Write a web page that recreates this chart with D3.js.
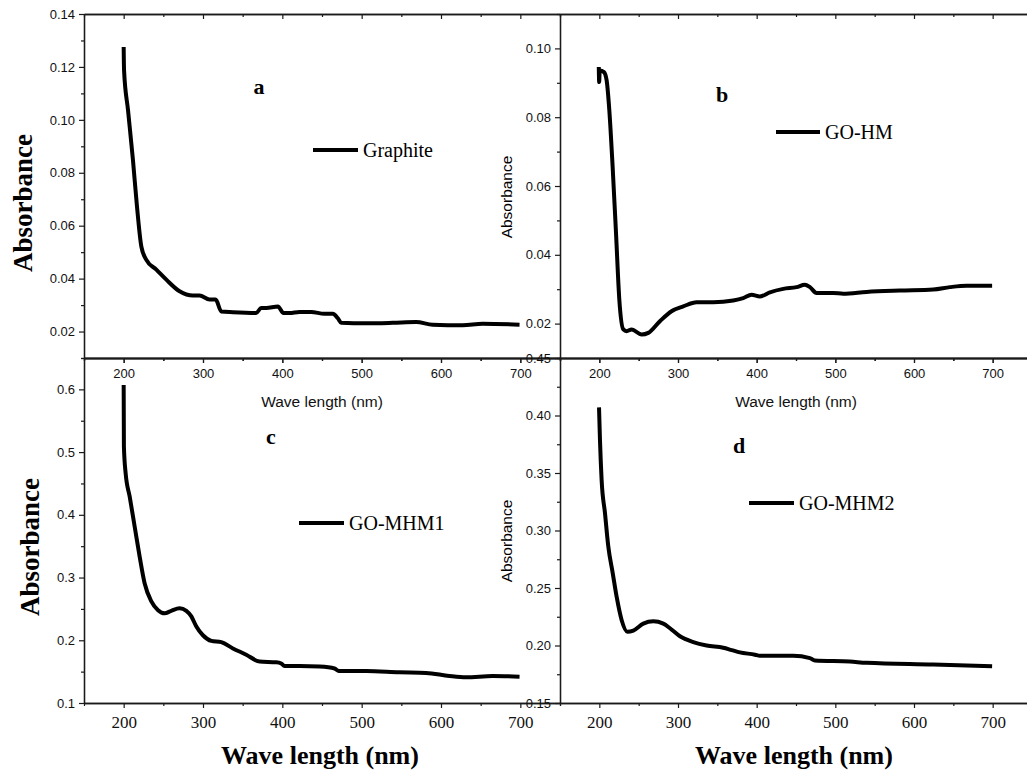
<!DOCTYPE html>
<html>
<head>
<meta charset="utf-8">
<script src="https://cdn.jsdelivr.net/npm/d3@7"></script>
<style>
  html, body { margin: 0; padding: 0; background: #fff; }
  svg { display: block; }
</style>
</head>
<body>
<svg id="chart" width="1027" height="773"></svg>
<script>
// ---------------- DATA ----------------
const seriesNames = ["Graphite", "GO-HM", "GO-MHM1", "GO-MHM2"];
const panelLetters = ["a", "b", "c", "d"];

const xTickValues = [200, 300, 400, 500, 600, 700];
const xMinorValues = [150, 250, 350, 450, 550, 650, 750];
const xDomain = [150, 750];

// Panel a: Graphite
const wlA  = [200, 200.5, 205.5, 211.7, 216.8, 222.3, 228.6, 241.2, 253.8, 270.5, 287.3, 295.7, 308.3, 316, 323, 337.7, 367, 373.4, 379.7, 394.4, 401.5, 409, 421.7, 436.4, 453, 463.6, 470, 474.2, 505.7, 539, 568.6, 589.6, 627.3, 652.5, 699];
const absA = [0.1275, 0.1187, 0.1036, 0.0848, 0.0672, 0.0521, 0.0471, 0.0434, 0.0396, 0.0352, 0.0336, 0.0336, 0.0321, 0.0321, 0.0276, 0.0273, 0.0270, 0.0289, 0.0289, 0.0295, 0.0270, 0.0270, 0.0274, 0.0274, 0.0267, 0.0267, 0.0250, 0.0233, 0.0231, 0.0233, 0.0236, 0.0226, 0.0224, 0.0229, 0.0226];

// Panel b: GO-HM
const wlB  = [199.3, 199.8, 200.5, 205.9, 209.3, 212.7, 216.9, 221.2, 225.4, 230.5, 234.7, 241, 253.8, 262.2, 277, 291.8, 306.7, 323.7, 344.8, 370.2, 382.9, 393.6, 404.1, 416.8, 433.8, 450.7, 461.3, 467.7, 476.2, 497.3, 510, 539.7, 582, 624.4, 645.6, 666.8, 699.3];
const absB = [0.0946, 0.0902, 0.0936, 0.0931, 0.0907, 0.0820, 0.0656, 0.0463, 0.0270, 0.0183, 0.0178, 0.0183, 0.0168, 0.0173, 0.0207, 0.0236, 0.0250, 0.0262, 0.0262, 0.0267, 0.0274, 0.0284, 0.0279, 0.0291, 0.0301, 0.0306, 0.0313, 0.0306, 0.0289, 0.0289, 0.0287, 0.0292, 0.0296, 0.0299, 0.0306, 0.0310, 0.0310];

// Panel c: GO-MHM1
const wlC  = [200, 200.3, 202.5, 207.6, 213.9, 220.2, 226.4, 234.9, 243.3, 251.6, 260, 270.5, 279, 285.3, 291.6, 299.9, 310.5, 323, 337.7, 354.5, 371.3, 392.3, 398.6, 402.8, 421.7, 446.9, 465.8, 471.2, 505.7, 547.6, 581.2, 610.6, 631.6, 665.1, 699];
const absC = [0.607, 0.509, 0.466, 0.429, 0.381, 0.333, 0.291, 0.262, 0.248, 0.243, 0.247, 0.251, 0.247, 0.238, 0.222, 0.208, 0.199, 0.197, 0.187, 0.177, 0.166, 0.165, 0.163, 0.159, 0.159, 0.158, 0.155, 0.151, 0.151, 0.149, 0.148, 0.143, 0.141, 0.143, 0.142];

// Panel d: GO-MHM2
const wlD  = [199.6, 200.8, 202.9, 207.2, 211.4, 217, 222.1, 228.4, 235.6, 243.2, 255.9, 268.6, 281.3, 289.8, 302.5, 319.4, 336.4, 357.5, 368.2, 378.7, 397.8, 404.1, 446.4, 467.7, 474, 518.5, 539.7, 624.4, 699.3];
const absD = [0.407, 0.379, 0.344, 0.315, 0.286, 0.263, 0.242, 0.222, 0.212, 0.213, 0.219, 0.221, 0.219, 0.215, 0.208, 0.203, 0.200, 0.198, 0.196, 0.194, 0.192, 0.191, 0.191, 0.189, 0.187, 0.186, 0.185, 0.1835, 0.182];

const yDomainA = [0.01, 0.14], yTicksA = [0.02, 0.04, 0.06, 0.08, 0.10, 0.12, 0.14], yMinorA = [0.01, 0.03, 0.05, 0.07, 0.09, 0.11, 0.13];
const yDomainB = [0.01, 0.11], yTicksB = [0.02, 0.04, 0.06, 0.08, 0.10], yMinorB = [0.01, 0.03, 0.05, 0.07, 0.09, 0.11];
const yDomainC = [0.1, 0.65],  yTicksC = [0.1, 0.2, 0.3, 0.4, 0.5, 0.6], yMinorC = [0.15, 0.25, 0.35, 0.45, 0.55, 0.65];
const yDomainD = [0.15, 0.45], yTicksD = [0.15, 0.20, 0.25, 0.30, 0.35, 0.40, 0.45], yMinorD = [0.175, 0.225, 0.275, 0.325, 0.375, 0.425];

const yTitle = "Absorbance";
const xTitle = "Wave length (nm)";

// ---------------- LAYOUT ----------------
const SANS = "'Liberation Sans', Arial, sans-serif";
const SERIF = "'Liberation Serif', 'Times New Roman', serif";
const AX = "#1a1a1a";

const svg = d3.select("#chart");

const panels = [
  { wl: wlA, ab: absA, yd: yDomainA, yt: yTicksA, ym: yMinorA, fmt: d3.format(".2f"),
    x0: 84, x1: 560, y0: 14, y1: 358, top: true, boldTitle: true,
    titleX: 23, titleY: 203, letterX: 259, letterY: 94,
    legX1: 313, legX2: 358, legY: 150 },
  { wl: wlB, ab: absB, yd: yDomainB, yt: yTicksB, ym: yMinorB, fmt: d3.format(".2f"),
    x0: 560, x1: 1032, y0: 14, y1: 358, top: true, boldTitle: false,
    titleX: 507, titleY: 197, letterX: 722, letterY: 102,
    legX1: 776, legX2: 820, legY: 132 },
  { wl: wlC, ab: absC, yd: yDomainC, yt: yTicksC, ym: yMinorC, fmt: d3.format(".1f"),
    x0: 84, x1: 560, y0: 358, y1: 703, top: false, boldTitle: true,
    titleX: 30, titleY: 547, letterX: 271, letterY: 444,
    legX1: 299, legX2: 344, legY: 523 },
  { wl: wlD, ab: absD, yd: yDomainD, yt: yTicksD, ym: yMinorD, fmt: d3.format(".2f"),
    x0: 560, x1: 1032, y0: 358, y1: 703, top: false, boldTitle: false,
    titleX: 507, titleY: 541, letterX: 739, letterY: 453,
    legX1: 749, legX2: 794, legY: 503 }
];

function styleAxis(g, font, size) {
  g.selectAll("path.domain").attr("stroke", AX).attr("stroke-width", 1.3);
  g.selectAll(".tick line").attr("stroke", AX).attr("stroke-width", 1.2);
  g.selectAll(".tick text").attr("fill", "#111").style("font-family", font).style("font-size", size + "px");
}

panels.forEach((p, i) => {
  const x = d3.scaleLinear().domain(xDomain).range([p.x0, p.x1]);
  const y = d3.scaleLinear().domain(p.yd).range([p.y1, p.y0]);
  const g = svg.append("g");

  // top border with inward ticks
  const gt = g.append("g").attr("transform", `translate(0,${p.y0})`)
    .call(d3.axisBottom(x).tickValues(xTickValues).tickSize(5).tickSizeOuter(0).tickFormat(""));
  styleAxis(gt, SANS, 12);
  const gtm = g.append("g").attr("transform", `translate(0,${p.y0})`)
    .call(d3.axisBottom(x).tickValues(xMinorValues).tickSize(3).tickSizeOuter(0).tickFormat(""));
  styleAxis(gtm, SANS, 12);

  // bottom axis
  const tickFont = p.top ? SANS : SERIF;
  const tickSizePx = p.top ? 13 : 17;
  const gb = g.append("g").attr("transform", `translate(0,${p.y1})`)
    .call(d3.axisBottom(x).tickValues(xTickValues).tickSize(5).tickPadding(p.top ? 6 : 8).tickSizeOuter(0));
  styleAxis(gb, tickFont, tickSizePx);
  const gbm = g.append("g").attr("transform", `translate(0,${p.y1})`)
    .call(d3.axisBottom(x).tickValues(xMinorValues).tickSize(3).tickSizeOuter(0).tickFormat(""));
  styleAxis(gbm, SANS, 12);

  // left axis
  const gl = g.append("g").attr("transform", `translate(${p.x0},0)`)
    .call(d3.axisLeft(y).tickValues(p.yt).tickSize(5).tickPadding(4).tickSizeOuter(0).tickFormat(p.fmt));
  styleAxis(gl, SANS, 13);
  const glm = g.append("g").attr("transform", `translate(${p.x0},0)`)
    .call(d3.axisLeft(y).tickValues(p.ym).tickSize(3).tickSizeOuter(0).tickFormat(""));
  styleAxis(glm, SANS, 12);

  // x-axis title
  if (p.top) {
    g.append("text").attr("x", (x(200) + x(700)) / 2).attr("y", 407)
      .attr("text-anchor", "middle").style("font-family", SANS).style("font-size", "15.5px")
      .attr("fill", "#111").text(xTitle);
  } else {
    g.append("text").attr("x", (x(200) + x(700)) / 2 - 2).attr("y", 764)
      .attr("text-anchor", "middle").style("font-family", SERIF).style("font-size", "26px")
      .style("font-weight", "bold").attr("fill", "#000").text(xTitle);
  }

  // y-axis title
  g.append("text")
    .attr("transform", `translate(${p.titleX},${p.titleY}) rotate(-90)`)
    .attr("text-anchor", "middle").attr("dy", "0.35em")
    .style("font-family", p.boldTitle ? SERIF : SANS)
    .style("font-size", p.boldTitle ? "27px" : "15.5px")
    .style("font-weight", p.boldTitle ? "bold" : "normal")
    .attr("fill", "#000").text(yTitle);

  // data line
  const line = d3.line().x((d, k) => x(p.wl[k])).y(d => y(d)).curve(d3.curveMonotoneX);
  g.append("path").datum(p.ab).attr("d", line)
    .attr("fill", "none").attr("stroke", "#000").attr("stroke-width", 4)
    .attr("stroke-linejoin", "round").attr("stroke-linecap", "butt");

  // panel letter
  g.append("text").attr("x", p.letterX).attr("y", p.letterY).attr("text-anchor", "middle")
    .style("font-family", SERIF).style("font-size", "22px").style("font-weight", "bold")
    .attr("fill", "#000").text(panelLetters[i]);

  // legend
  g.append("line").attr("x1", p.legX1).attr("x2", p.legX2).attr("y1", p.legY).attr("y2", p.legY)
    .attr("stroke", "#000").attr("stroke-width", 4);
  g.append("text").attr("x", p.legX2 + 5).attr("y", p.legY).attr("dy", "0.35em")
    .style("font-family", SERIF).style("font-size", "20px").attr("fill", "#000")
    .text(seriesNames[i]);
});

// right edges of left panels (shared with right panels' left axes)
</script>
</body>
</html>
